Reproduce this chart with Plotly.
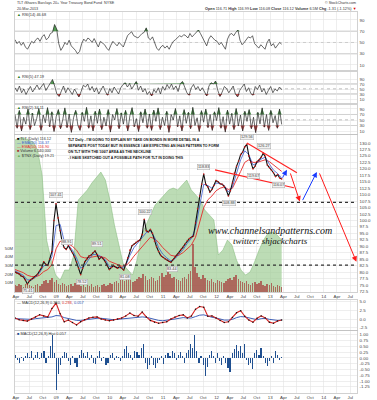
import plotly.graph_objects as go
import pandas as pd
import numpy as np

START, END = "2008-03-26", "2013-03-20"
X_RANGE = ["2008-03-26", "2014-08-16"]

# ---------------- data ----------------
price = [80.0, 79.6, 79.3, 78.5, 78.2, 77.0, 75.4, 76.5, 77.2, 77.6, 78.4, 79.2, 80.5, 81.8, 84.0,
         83.0, 82.6, 85.0, 88.0, 100.0, 106.5, 101.0, 96.0, 91.5, 89.5, 88.8, 90.2, 89.0, 87.5, 86.0,
         84.0, 81.5, 79.0, 81.5, 84.0, 85.0, 86.2, 86.5, 87.5, 88.2, 86.8, 85.0, 85.8, 85.2, 84.0,
         82.5, 81.0, 81.8, 82.5, 82.0, 81.5, 82.2, 81.5, 80.8, 83.0, 85.5, 88.5, 90.2, 90.8, 91.5,
         92.0, 92.5, 94.5, 100.5, 96.0, 95.6, 96.5, 95.0, 92.0, 89.8, 88.0, 86.5, 85.8, 85.2, 84.8,
         84.2, 83.8, 84.8, 85.8, 86.6, 87.5, 88.8, 89.8, 91.0, 92.2, 93.0, 93.5, 94.0, 99.0, 104.5,
         109.5, 114.0, 118.0, 114.0, 113.0, 111.0, 112.0, 113.5, 115.5, 115.0, 114.2, 114.0, 113.2, 111.8, 109.5,
         111.5, 114.5, 118.5, 121.0, 123.0, 125.5, 126.5, 128.5, 129.5, 125.0, 122.5, 120.0, 121.0, 122.8, 123.5,
         124.5, 126.0, 124.8, 121.5, 120.5, 119.5, 118.5, 117.0, 117.8, 116.5, 116.1]

ema20 = [80.5, 79.8, 78.8, 77.0, 77.0, 78.0, 79.8, 82.5, 82.8, 86.0, 98.0, 98.5, 92.0, 90.5, 88.5, 85.5,
         81.5, 82.5, 85.0, 86.8, 86.8, 86.0, 84.8, 82.2, 82.2, 81.8, 81.6, 82.6, 86.5, 89.5, 91.3, 93.5,
         95.3, 96.0, 93.5, 89.5, 87.0, 85.5, 84.3, 85.2, 86.8, 88.8, 91.2, 93.0, 97.0, 105.5, 114.0, 113.5,
         112.5, 114.5, 114.3, 113.5, 111.0, 113.0, 118.5, 123.5, 127.0, 125.5, 121.5, 122.2, 123.8, 124.5,
         121.8, 119.5, 118.2, 116.4]

ema50 = [81.0, 80.5, 79.8, 78.8, 78.3, 78.2, 78.8, 80.2, 81.0, 83.0, 89.0, 92.0, 91.5, 91.0, 90.0, 88.5,
         86.0, 85.5, 85.6, 86.0, 86.2, 86.0, 85.5, 84.2, 83.5, 82.8, 82.3, 82.4, 84.0, 86.2, 88.0, 90.0,
         92.0, 93.5, 93.0, 91.5, 89.5, 88.0, 86.5, 86.2, 86.6, 87.6, 89.0, 90.5, 93.5, 99.0, 105.0, 108.0,
         109.5, 111.5, 112.5, 113.0, 112.0, 112.5, 115.5, 119.0, 122.5, 123.5, 122.5, 122.5, 123.0, 123.5,
         122.8, 121.5, 120.2, 119.0]

volume_m = [8, 7, 9, 8, 6, 9, 10, 8, 7, 6, 8, 9, 7, 9, 12, 13, 10, 14, 16, 11, 13, 9, 8, 10, 9, 7, 8,
            9, 7, 10, 12, 9, 7, 8, 6, 8, 7, 9, 6, 7, 8, 6, 8, 9, 7, 8, 10, 9, 11, 12, 10, 14, 17, 12,
            16, 15, 14, 11, 12, 15, 17, 16, 20, 18, 14, 15, 17, 16, 12, 14, 18, 22, 17, 19, 23, 20, 16,
            17, 15, 14, 12, 16, 17, 15, 20, 24, 55, 28, 22, 17, 15, 19, 16, 14, 12, 15, 11, 10, 14, 12,
            11, 10, 12, 15, 16, 14, 17, 19, 15, 12, 11, 10, 12, 9, 8, 10, 11, 9, 10, 12, 8, 7, 9, 8, 10,
            7, 6, 8, 7, 5]

tnx_area = [96.8, 98.1, 98.1, 96.8, 95.5, 90.4, 74.5, 33.1, 20.4, 10.8, 7.6, 14.0, 14.0, 23.6, 58.6,
            61.8, 65.0, 69.4, 72.6, 76.4, 71.3, 58.6, 42.7, 29.9, 17.2, 14.0, 10.8, 20.4, 36.3, 42.7,
            49.0, 55.4, 58.6, 61.8, 65.0, 66.2, 65.0, 68.2, 71.3, 65.0, 61.8, 58.6, 52.2, 49.0, 45.9,
            23.6, 26.8, 33.1, 29.9, 20.4, 14.0, 10.8, 12.7, 19.1, 26.8, 33.1, 37.6, 38.2, 36.3, 33.1]

rsi14 = [55, 48, 52, 45, 50, 42, 38, 46, 52, 49, 55, 58, 52, 60, 64, 55, 58, 66, 68, 82, 74, 48, 36, 42,
         50, 46, 54, 44, 40, 36, 30, 34, 48, 56, 52, 58, 55, 50, 57, 48, 42, 52, 49, 46, 40, 36, 45, 52,
         48, 44, 50, 46, 42, 52, 62, 66, 69, 62, 60, 58, 62, 66, 68, 76, 58, 55, 60, 48, 40, 36, 42, 45,
         40, 44, 38, 46, 52, 55, 58, 62, 60, 64, 62, 58, 66, 60, 64, 68, 72, 66, 58, 50, 44, 56, 62, 58,
         54, 52, 46, 50, 44, 38, 56, 64, 66, 62, 68, 72, 54, 46, 50, 56, 60, 58, 62, 48, 44, 40, 46, 42,
         38, 50, 56, 44, 48, 40, 46, 50, 47]

rsi5 = [55, 40, 62, 35, 50, 28, 45, 60, 38, 52, 66, 48, 58, 72, 44, 60, 70, 88, 62, 30, 20, 45, 62, 35,
        55, 42, 28, 50, 36, 18, 40, 65, 58, 70, 45, 60, 38, 55, 30, 48, 62, 40, 25, 52, 35, 58, 44, 30,
        55, 68, 75, 58, 72, 50, 65, 80, 45, 62, 38, 52, 28, 40, 22, 48, 35, 55, 30, 60, 45, 68, 52, 70,
        48, 62, 40, 72, 80, 58, 35, 25, 55, 68, 48, 60, 42, 55, 38, 22, 62, 75, 70, 82, 45, 20, 38, 60,
        52, 35, 48, 62, 30, 18, 45, 58, 70, 40, 55, 32, 25, 60, 48, 66, 38, 52, 28, 45, 60, 35, 50, 42,
        58, 47]

rsi2 = [70, 20, 85, 10, 60, 35, 90, 15, 75, 30, 55, 92, 12, 68, 40, 95, 25, 80, 8, 62, 88, 18, 50, 94,
        22, 72, 5, 58, 85, 30, 12, 78, 45, 96, 20, 65, 10, 82, 38, 90, 15, 60, 28, 88, 6, 70, 50, 92,
        18, 76, 35, 85, 10, 66, 95, 25, 55, 8, 80, 40, 90, 20, 72, 12, 86, 45, 94, 15, 60, 30, 82, 5,
        70, 50, 92, 25, 65, 10, 88, 38, 78, 18, 96, 30, 58, 8, 84, 42, 90, 22, 70, 12, 80, 48, 95, 20,
        62, 6, 86, 35, 74, 15, 92, 28, 68, 10, 82, 45, 88, 18, 60, 4, 78, 36, 94, 24, 70, 12, 85, 40,
        66, 20, 90, 34]

macd_line = [0.3, -0.2, -0.4, -0.6, 0.0, 0.6, 1.2, 0.9, 0.6, 3.0, 4.6, 1.5, -0.8, -0.3, -1.0, -1.7,
             -0.8, -0.2, 0.3, 0.5, 0.6, 0.0, -0.3, -0.5, -0.3, 0.0, 0.3, 0.9, 1.7, 1.0, 0.8, 2.0, 0.6,
             -0.4, -0.9, -1.2, -1.0, -0.8, 0.0, 0.6, 1.0, 1.2, 0.3, 0.9, 2.8, 3.6, 3.4, 0.8, 0.9, 0.3,
             -0.4, -1.0, -0.8, 0.4, 1.8, 2.4, 0.8, -0.3, -0.9, 0.2, 0.9, 0.3, -0.9, -1.2, -0.6, -0.3]

macd_signal = [0.1, 0.0, -0.1, -0.2, -0.1, 0.1, 0.2, 0.3, 0.3, 0.6, 1.0, 0.9, 0.4, 0.1, -0.2, -0.4,
               -0.4, -0.2, 0.0, 0.1, 0.2, 0.2, 0.0, -0.1, -0.2, -0.1, 0.0, 0.2, 0.4, 0.5, 0.5, 0.6, 0.5,
               0.2, -0.2, -0.4, -0.5, -0.4, -0.2, 0.0, 0.2, 0.4, 0.3, 0.3, 0.7, 1.1, 1.2, 0.8, 0.5, 0.3,
               0.0, -0.3, -0.3, -0.1, 0.4, 0.7, 0.6, 0.3, -0.1, -0.2, 0.1, 0.2, -0.1, -0.3, -0.4, -0.3]

macd_hist = [0.15, -0.1, -0.2, 0.05, -0.15, 0.1, 0.2, 0.05, 0.3, -0.1, 0.15, 0.25, -0.05, 0.2, 0.3, -0.2,
             0.1, 0.5, 1.0, 0.2, -1.4, -0.7, -0.3, 0.1, 0.25, 0.2, -0.15, -0.3, 0.1, -0.2, -0.4, 0.15,
             0.35, 0.2, 0.1, 0.25, -0.1, 0.15, -0.2, -0.25, 0.1, 0.3, -0.15, 0.05, -0.3, -0.2, 0.15, 0.2,
             -0.1, 0.1, 0.05, -0.15, 0.1, 0.4, 0.5, 0.2, 0.15, -0.1, 0.3, 0.25, 0.15, 0.45, 0.6, -0.2,
             -0.5, -0.3, 0.1, -0.3, -0.45, -0.2, -0.1, 0.1, -0.25, 0.15, 0.2, 0.1, 0.3, 0.2, -0.1, 0.15,
             0.25, 0.1, -0.2, 0.2, 0.35, 0.6, 0.45, 1.0, 0.3, -0.2, 0.1, -0.3, -0.8, -0.4, 0.15, 0.3,
             0.1, -0.2, 0.2, -0.15, -0.3, 0.1, -0.2, -0.45, -0.6, 0.2, 0.4, 0.55, 0.3, 0.5, 0.2, 0.6,
             -0.1, -0.3, -0.2, -0.5, 0.2, 0.35, 0.15, 0.45, 0.1, -0.2, -0.35, -0.15, 0.1, -0.2, 0.3,
             0.15, -0.1, 0.06]

neckline_levels = [107.0, 82.7]

# peak / trough price labels
label_dates = ["2008-06-23", "2008-12-30", "2009-03-16", "2009-06-26", "2009-10-07", "2010-04-16",
               "2010-08-30", "2011-03-02", "2011-10-06", "2012-03-25", "2012-07-26", "2012-09-12",
               "2012-11-19", "2013-03-01"]
label_prices = [75.4, 107.0, 88.8, 79.0, 88.2, 80.8, 100.5, 83.8, 118.0, 109.5, 129.5, 120.0, 126.0, 116.5]
label_texts = ["75.41", "107.41", "88.91", "78.52", "89.51", "81.08", "100.22", "83.44", "118.83",
               "108.88", "129.56", "119.67", "126.27", "116.07"]
label_above = [False, True, True, False, True, False, True, False, True, False, True, False, True, False]

# hand-drawn trendlines and projected path
trend_dates = [["2012-07-26", "2013-07-02"], ["2011-12-21", "2013-06-11"]]
trend_prices = [[130.0, 118.5], [119.6, 112.7]]
path_dates = [["2013-03-20", "2013-04-25"], ["2013-05-15", "2013-07-22"],
              ["2013-08-05", "2013-11-15"], ["2013-11-29", "2014-08-12"]]
path_prices = [[116.0, 119.6], [118.8, 107.3], [107.3, 118.8], [118.8, 84.0]]
path_colors = ["#1a3cff", "#ff1a1a", "#1a3cff", "#ff1a1a"]

tick_labels = ["Apr", "Jul", "Oct", "09", "Apr", "Jul", "Oct", "10", "Apr", "Jul", "Oct", "11",
               "Apr", "Jul", "Oct", "12", "Apr", "Jul", "Oct", "13", "Apr", "Jul", "Oct", "14",
               "Apr", "Jul"]
tick_dates = pd.date_range("2008-04-01", periods=len(tick_labels), freq="QS")

# ---------------- layout helpers ----------------
W, H = 377, 400
ML, MR, MT, MB = 15, 20, 0, 6
PW, PH = W - ML - MR, H - MT - MB


def px(x, y):
    return (x - ML) / PW, (PH - (y - MT)) / PH


def dom(top, bottom):
    return [(PH - bottom) / PH, (PH - top) / PH]


def dates(n):
    return pd.date_range(START, END, periods=n)


GRID = "#e3e3e3"
BORDER = "#bdbdbd"
FONT = "Liberation Sans, Arial"
TICKF = dict(size=4.4, color="#444", family=FONT)

fig = go.Figure()


def rsi_panel(vals, k):
    d = dates(len(vals))
    v = np.array(vals, dtype=float)
    ax = dict(xaxis="x" if k == 1 else f"x{k}", yaxis="y" if k == 1 else f"y{k}",
              hoverinfo="skip", showlegend=False, mode="lines")
    fig.add_trace(go.Scatter(x=d, y=np.full(len(v), 70.0), line=dict(width=0), **ax))
    fig.add_trace(go.Scatter(x=d, y=np.maximum(v, 70), fill="tonexty",
                             fillcolor="rgba(40,130,40,0.8)", line=dict(width=0), **ax))
    fig.add_trace(go.Scatter(x=d, y=np.full(len(v), 30.0), line=dict(width=0), **ax))
    fig.add_trace(go.Scatter(x=d, y=np.minimum(v, 30), fill="tonexty",
                             fillcolor="rgba(190,30,30,0.8)", line=dict(width=0), **ax))
    fig.add_trace(go.Scatter(x=d, y=v, line=dict(color="#2a2a2a", width=0.7), **ax))


rsi_panel(rsi14, 1)
rsi_panel(rsi5, 2)
rsi_panel(rsi2, 3)

# main panel: shaded area, volume, price
d_tnx = dates(len(tnx_area))
fig.add_trace(go.Scatter(x=d_tnx, y=tnx_area, xaxis="x4", yaxis="y7", mode="lines",
                         fill="tozeroy", fillcolor="rgba(160,205,150,0.7)",
                         line=dict(color="rgba(120,180,110,0.9)", width=0.5), showlegend=False))

d_vol = dates(len(volume_m))
step_ms = (pd.Timestamp(END) - pd.Timestamp(START)).total_seconds() * 1000 / (len(volume_m) - 1)
fig.add_trace(go.Bar(x=d_vol, y=volume_m, xaxis="x4", yaxis="y8", width=step_ms * 0.7,
                     marker=dict(color="rgba(165,55,55,0.7)", line=dict(width=0)), showlegend=False))

fig.add_trace(go.Scatter(x=dates(len(ema50)), y=ema50, xaxis="x4", yaxis="y9", mode="lines",
                         line=dict(color="#e52a2a", width=0.9), showlegend=False))
fig.add_trace(go.Scatter(x=dates(len(ema20)), y=ema20, xaxis="x4", yaxis="y9", mode="lines",
                         line=dict(color="#3a5bd0", width=0.8), showlegend=False))
d_price = dates(len(price))
fig.add_trace(go.Scatter(x=d_price, y=price, xaxis="x4", yaxis="y9", mode="lines+markers",
                         line=dict(color="#111", width=1.1),
                         marker=dict(size=1.6, color="#d01818"), showlegend=False))

# MACD
d_m = dates(len(macd_line))
fig.add_trace(go.Scatter(x=dates(len(macd_signal)), y=macd_signal, xaxis="x5", yaxis="y5",
                         mode="lines", line=dict(color="#2a4fb0", width=0.9), showlegend=False))
fig.add_trace(go.Scatter(x=d_m, y=macd_line, xaxis="x5", yaxis="y5", mode="lines",
                         line=dict(color="#d42020", width=1.1), showlegend=False))
fig.add_trace(go.Scatter(x=d_m, y=macd_line, xaxis="x5", yaxis="y5", mode="markers",
                         marker=dict(size=1.5, color="#111"), showlegend=False))

d_h = dates(len(macd_hist))
step_h = (pd.Timestamp(END) - pd.Timestamp(START)).total_seconds() * 1000 / (len(macd_hist) - 1)
fig.add_trace(go.Bar(x=d_h, y=macd_hist, xaxis="x6", yaxis="y6", width=step_h * 0.55,
                     marker=dict(color="#1f4f90", line=dict(width=0)), showlegend=False))

# ---------------- axes ----------------
panels = {
    1: dom(12, 70), 2: dom(72, 103), 3: dom(105, 134),
    4: dom(135, 292), 5: dom(300, 330), 6: dom(331, 393),
}
price_range = [72.3, 133.1]
yranges = {1: [1.1, 104.2], 2: [-6, 118], 3: [-0.9, 104.5], 4: price_range,
           5: [-3.17, 5.48], 6: [-1.52, 1.17]}
price_ticks = list(np.arange(72.5, 130.01, 2.5))
yticks = {1: ([10, 30, 50, 70, 90], None), 2: ([10, 30, 50, 70, 90], None),
          3: ([10, 30, 50, 70, 90], None),
          4: (price_ticks, [f"{t:.1f}" for t in price_ticks]),
          5: ([-2.5, 0, 2.5, 5.0], ["-2.5", "0.0", "2.5", "5.0"]),
          6: ([1.0, 0.75, 0.5, 0.25, 0, -0.25, -0.5, -0.75, -1.0, -1.25],
              ["1.00", "0.75", "0.50", "0.25", "0.00", "-0.25", "-0.50", "-0.75", "-1.00", "-1.25"])}

for k in range(1, 7):
    xk = "xaxis" if k == 1 else f"xaxis{k}"
    yk = "yaxis" if k == 1 else f"yaxis{k}"
    xa = dict(domain=[0, 1], anchor="y" if k == 1 else f"y{k}", type="date", range=X_RANGE,
              tickvals=tick_dates, ticktext=tick_labels, showticklabels=k in (4, 6),
              showgrid=True, gridcolor=GRID, gridwidth=0.6, zeroline=False, showline=True,
              mirror=True, linecolor=BORDER, linewidth=0.7, ticks="", tickfont=TICKF,
              ticklabelstandoff=0)
    if k > 1:
        xa["matches"] = "x"
    fig.layout[xk] = xa
    tv, tt = yticks[k]
    ya = dict(domain=panels[k], anchor="x" if k == 1 else f"x{k}", range=yranges[k], side="right",
              tickvals=tv, showgrid=True, gridcolor=GRID, gridwidth=0.6, zeroline=False,
              showline=True, mirror=True, linecolor=BORDER, linewidth=0.7, ticks="",
              tickfont=TICKF, fixedrange=True, ticklabelstandoff=1)
    if tt is not None:
        ya["ticktext"] = tt
    fig.layout[yk] = ya

fig.layout["yaxis7"] = dict(overlaying="y4", anchor="x4", range=[0, 100], visible=False)
fig.layout["yaxis8"] = dict(overlaying="y4", anchor="x4", side="left", range=[-0.3, 179.4],
                            tickvals=[10, 20, 30, 40, 50], ticktext=["10M", "20M", "30M", "40M", "50M"],
                            showgrid=False, zeroline=False, ticks="", tickfont=dict(size=4.2, color="#444"),
                            ticklabelstandoff=1)
fig.layout["yaxis9"] = dict(overlaying="y4", anchor="x4", range=price_range, visible=False)

# RSI reference lines
for k in (1, 2, 3):
    xr = "x domain" if k == 1 else f"x{k} domain"
    yr = "y" if k == 1 else f"y{k}"
    for lvl, dash, col in ((70, "solid", "#9a9a9a"), (30, "solid", "#9a9a9a"), (50, "dot", "#888")):
        fig.add_shape(type="line", xref=xr, yref=yr, x0=0, x1=1, y0=lvl, y1=lvl,
                      line=dict(color=col, width=0.7, dash=dash), layer="below")

# neckline-level dotted lines
for lvl in neckline_levels:
    fig.add_shape(type="line", xref="x4 domain", yref="y4", x0=0, x1=1, y0=lvl, y1=lvl,
                  line=dict(color="#333", width=1.1, dash="dot"), layer="above")

# trend lines
for dd, pp in zip(trend_dates, trend_prices):
    fig.add_shape(type="line", xref="x4", yref="y4", x0=dd[0], x1=dd[1], y0=pp[0], y1=pp[1],
                  line=dict(color="#ff2020", width=1.1), layer="above")

# projected path arrows
for dd, pp, c in zip(path_dates, path_prices, path_colors):
    fig.add_annotation(x=dd[1], y=pp[1], ax=dd[0], ay=pp[0], xref="x4", yref="y4",
                       axref="x4", ayref="y4", showarrow=True, arrowhead=2, arrowsize=1.1,
                       arrowwidth=1, arrowcolor=c, text="")

# price labels
for dt, pr, tx, ab in zip(label_dates, label_prices, label_texts, label_above):
    fig.add_annotation(x=dt, y=pr, xref="x4", yref="y4", text=tx, showarrow=False,
                       yshift=7 if ab else -7, bgcolor="#f2f2f2", bordercolor="#a8a8a8",
                       borderwidth=0.5, borderpad=0.5, font=dict(size=3.8, color="#444", family=FONT))


def txt(x, y, s, size=4.0, color="#333", xanchor="left", family=FONT, **kw):
    xp, yp = px(x, y)
    fig.add_annotation(x=xp, y=yp, xref="paper", yref="paper", text=s, showarrow=False,
                       xanchor=xanchor, yanchor="middle", align="left", borderpad=0,
                       font=dict(size=size, color=color, family=family, **kw))


txt(16, 3.5, "TLT iShares Barclays 20+ Year Treasury Bond Fund  NYSE", 3.7)
txt(16, 9, "20-Mar-2013", 3.7)
txt(357, 3.5, "© StockCharts.com", 3.6, xanchor="right")
txt(357, 9, "<b>Open</b> 116.71 <b>High</b> 116.99 <b>Low</b> 116.08 <b>Close</b> 116.12 "
            "<b>Volume</b> 6.5M <b>Chg</b> -1.31 (-1.12%) <span style='color:#d00'>▼</span>",
    3.8, xanchor="right")

GRN = "<span style='color:#2a7a2a'>▲</span>"
txt(16, 15, GRN + " RSI(14) 46.68", 3.9)
txt(16, 77, GRN + " RSI(5) 47.19", 3.9)
txt(16, 107.5, GRN + " RSI(2) 34.11", 3.9)

txt(16, 138.5, "<span style='color:#000'>■</span> TLT (Daily) 116.12", 3.8)
txt(16, 142.8, "<span style='color:#3a5bd0'>— EMA(20) 116.37</span>", 3.8)
txt(16, 147.1, "<span style='color:#e52a2a'>— EMA(50) 116.90</span>", 3.8)
txt(16, 151.4, "<span style='color:#a33'>■</span> Volume 6,540,000", 3.8)
txt(16, 155.7, "<span style='color:#6ab060'>▲</span> $TNX (Daily) 19.21", 3.8)

note_lines = ["TLT Daily - I'M GOING TO EXPLAIN MY TAKE ON BONDS IN MORE DETAIL IN A",
              "SEPARATE POST TODAY BUT IN ESSENCE I AM EXPECTING AN IH&S PATTERN TO FORM",
              "ON TLT WITH THE 106/7 AREA AS THE NECKLINE",
              ". I HAVE SKETCHED OUT A POSSIBLE PATH FOR TLT IN DOING THIS"]
for i, ln in enumerate(note_lines):
    txt(67, 140 + 6 * i, "<b>" + ln + "</b>", 3.5, color="#111")

txt(270, 231, "www.channelsandpatterns.com", 10, color="#111", xanchor="center",
    family="Liberation Serif, Times New Roman, serif", style="italic")
txt(270, 240.5, "twitter: shjackcharts", 9, color="#111", xanchor="center",
    family="Liberation Serif, Times New Roman, serif", style="italic")

txt(16, 302, "— MACD(12,26,9) 0.350, <span style='color:#d42020'>0.293</span>, "
             "<span style='color:#2a4fb0'>0.057</span>", 3.9)
txt(16, 333.5, "<span style='color:#1f4f90'>■</span> MACD(12,26,9) Hist 0.057", 3.9)

fig.update_layout(width=W, height=H, margin=dict(l=ML, r=MR, t=MT, b=MB),
                  paper_bgcolor="white", plot_bgcolor="white", showlegend=False,
                  bargap=0, font=dict(family=FONT, size=5))

fig.write_html("out.html", config={"displayModeBar": False, "staticPlot": True},
               post_script="document.body.style.margin='0px';"
                           "document.body.style.overflow='hidden';")
